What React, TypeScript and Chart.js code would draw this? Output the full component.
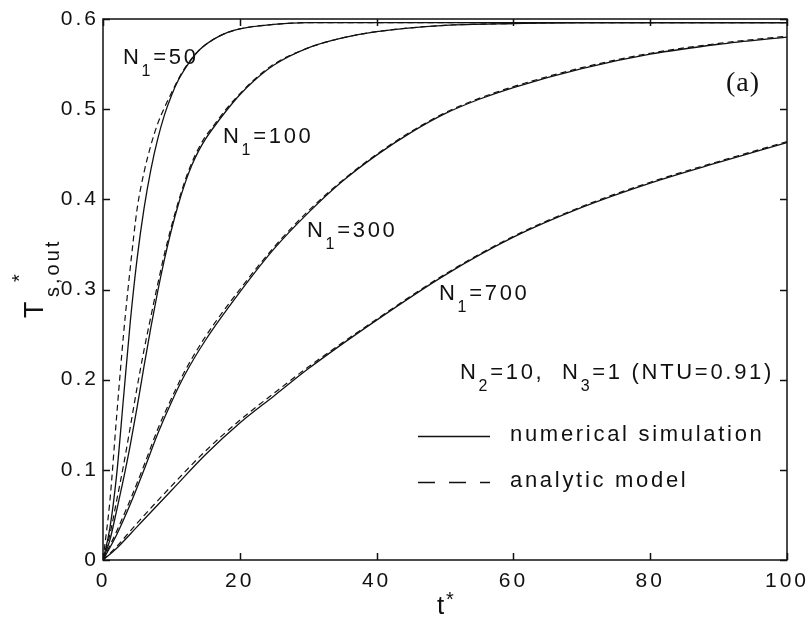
import React, { useEffect, useRef } from "react";
import { Chart, registerables } from "chart.js";

Chart.register(...registerables);

// ---------- data ----------
const tN50 = [0, 1, 2, 3, 4, 5, 6, 7, 8, 9, 10, 11, 12, 14, 17, 20, 25, 30, 40, 50, 60, 70, 80, 90, 100];
const simN50 = [0, 0.035, 0.095, 0.18, 0.265, 0.335, 0.39, 0.433, 0.467, 0.494, 0.515, 0.532, 0.545, 0.565, 0.581, 0.589, 0.594, 0.596, 0.596, 0.596, 0.596, 0.596, 0.596, 0.596, 0.596];
const anaN50 = [0, 0.065, 0.16, 0.25, 0.325, 0.39, 0.43, 0.46, 0.484, 0.502, 0.518, 0.533, 0.546, 0.565, 0.581, 0.589, 0.594, 0.596, 0.596, 0.596, 0.596, 0.596, 0.596, 0.596, 0.596];

const tN100 = [0, 1, 2, 3, 4, 5, 6, 7, 8, 9, 10, 11, 12, 13, 14, 15, 16, 18, 20, 22, 25, 30, 35, 40, 50, 60, 70, 80, 90, 100];
const simN100 = [0, 0.022, 0.055, 0.09, 0.128, 0.17, 0.215, 0.258, 0.298, 0.334, 0.366, 0.394, 0.418, 0.438, 0.454, 0.467, 0.478, 0.498, 0.516, 0.531, 0.549, 0.568, 0.579, 0.586, 0.593, 0.595, 0.596, 0.596, 0.596, 0.596];
const anaN100 = [0, 0.028, 0.066, 0.105, 0.148, 0.192, 0.233, 0.27, 0.306, 0.34, 0.37, 0.397, 0.421, 0.441, 0.457, 0.47, 0.48, 0.5, 0.517, 0.532, 0.55, 0.568, 0.579, 0.586, 0.593, 0.595, 0.596, 0.596, 0.596, 0.596];

const tN300 = [0, 2, 4, 6, 8, 10, 12, 15, 20, 25, 30, 35, 40, 45, 50, 55, 60, 70, 80, 90, 100];
const simN300 = [0, 0.028, 0.062, 0.1, 0.14, 0.175, 0.206, 0.244, 0.297, 0.345, 0.385, 0.42, 0.449, 0.474, 0.495, 0.511, 0.524, 0.545, 0.561, 0.572, 0.58];
const anaN300 = [0, 0.032, 0.067, 0.105, 0.145, 0.179, 0.21, 0.248, 0.3, 0.347, 0.387, 0.421, 0.45, 0.475, 0.496, 0.512, 0.525, 0.546, 0.562, 0.573, 0.581];

const tN700 = [0, 2, 5, 10, 15, 20, 25, 30, 40, 50, 60, 70, 80, 90, 100];
const simN700 = [0, 0.013, 0.037, 0.077, 0.117, 0.152, 0.182, 0.212, 0.266, 0.316, 0.358, 0.391, 0.418, 0.441, 0.463];
const anaN700 = [0, 0.015, 0.041, 0.082, 0.121, 0.155, 0.185, 0.214, 0.267, 0.317, 0.359, 0.392, 0.419, 0.442, 0.464];

const xMin = 0, xMax = 100, xStep = 20;
const yMin = 0, yMax = 0.6, yStep = 0.1;

const curveLabels = [
  { n: "1", v: "50", x: 123, y: 64 },
  { n: "1", v: "100", x: 223, y: 143 },
  { n: "1", v: "300", x: 307, y: 237 },
  { n: "1", v: "700", x: 439, y: 300 },
];
const legendSolid = "numerical simulation";
const legendDashed = "analytic model";

// ---------- helpers ----------
const SANS = '"Liberation Sans", Arial, Helvetica, sans-serif';
const SERIF = '"Liberation Serif", "Times New Roman", serif';
const INK = "#111";

type Part = { t: string; sub?: boolean };
function rich(ctx: CanvasRenderingContext2D, x: number, y: number, parts: Part[], size: number, spacing: number) {
  let cx = x;
  ctx.save();
  ctx.fillStyle = INK;
  ctx.textAlign = "left";
  ctx.textBaseline = "alphabetic";
  (ctx as any).letterSpacing = spacing + "px";
  for (const p of parts) {
    const s = p.sub ? Math.round(size * 0.72) : size;
    ctx.font = `${s}px ${SANS}`;
    const dy = p.sub ? Math.round(size * 0.55) : 0;
    ctx.fillText(p.t, cx, y + dy);
    cx += ctx.measureText(p.t).width;
  }
  ctx.restore();
}

const mk = (ts: number[], vs: number[]) => ts.map((t, i) => ({ x: t, y: vs[i] }));

const decorPlugin = {
  id: "decor",
  beforeDraw(chart: any) {
    (chart.ctx as any).letterSpacing = "3px";
  },
  afterDraw(chart: any) {
    const ctx: CanvasRenderingContext2D = chart.ctx;
    const { left, right, top, bottom } = chart.chartArea;
    const xs = chart.scales.x;
    const ys = chart.scales.y;
    ctx.save();
    (ctx as any).letterSpacing = "0px";
    ctx.strokeStyle = INK;
    ctx.lineWidth = 1.5;
    ctx.strokeRect(left, top, right - left, bottom - top);
    const tl = 7;
    ctx.beginPath();
    xs.ticks.forEach((tk: any) => {
      const px = Math.round(xs.getPixelForValue(tk.value)) + 0.5;
      ctx.moveTo(px, bottom); ctx.lineTo(px, bottom - tl);
      ctx.moveTo(px, top); ctx.lineTo(px, top + tl);
    });
    ys.ticks.forEach((tk: any) => {
      const py = Math.round(ys.getPixelForValue(tk.value)) + 0.5;
      ctx.moveTo(left, py); ctx.lineTo(left + tl, py);
      ctx.moveTo(right, py); ctx.lineTo(right - tl, py);
    });
    ctx.stroke();

    // curve labels
    for (const l of curveLabels) {
      rich(ctx, l.x, l.y, [{ t: "N" }, { t: l.n, sub: true }, { t: "=" + l.v }], 22, 2.7);
    }
    rich(ctx, 460, 379, [{ t: "N" }, { t: "2", sub: true }, { t: "=10,  N" }, { t: "3", sub: true }, { t: "=1 (NTU=0.91)" }], 22, 2.7);

    // legend
    ctx.lineWidth = 1.3;
    ctx.beginPath();
    ctx.moveTo(418, 436.5); ctx.lineTo(490, 436.5);
    ctx.stroke();
    ctx.setLineDash([17, 14]);
    ctx.beginPath();
    ctx.moveTo(418, 482.5); ctx.lineTo(490, 482.5);
    ctx.stroke();
    ctx.setLineDash([]);
    rich(ctx, 510, 441, [{ t: legendSolid }], 22, 2.7);
    rich(ctx, 510, 487, [{ t: legendDashed }], 22, 2.7);

    // (a)
    ctx.fillStyle = INK;
    ctx.font = `28px ${SERIF}`;
    (ctx as any).letterSpacing = "1px";
    ctx.textAlign = "left";
    ctx.textBaseline = "alphabetic";
    ctx.fillText("(a)", 726, 91);

    // x title t*
    (ctx as any).letterSpacing = "0px";
    ctx.font = `26px ${SANS}`;
    ctx.fillText("t", 437, 614);
    ctx.font = `20px ${SANS}`;
    ctx.fillText("*", 446, 606);

    // y title T*_{s,out}
    ctx.translate(43, 318);
    ctx.rotate(-Math.PI / 2);
    ctx.font = `27px ${SANS}`;
    ctx.fillText("T", 0, 0);
    ctx.font = `20px ${SANS}`;
    (ctx as any).letterSpacing = "3px";
    ctx.fillText("s,out", 21, 16);
    (ctx as any).letterSpacing = "0px";
    ctx.fillText("*", 36, -17);
    ctx.restore();
  },
};

export default function App() {
  const ref = useRef<HTMLCanvasElement | null>(null);
  useEffect(() => {
    if (!ref.current) return;
    const solid = { borderColor: INK, borderWidth: 1.3, pointRadius: 0, fill: false, cubicInterpolationMode: "monotone" as const };
    const dashed = { borderColor: INK, borderWidth: 1.2, pointRadius: 0, fill: false, borderDash: [6, 4], cubicInterpolationMode: "monotone" as const };
    const tickFont = { family: SANS, size: 21 };
    const chart = new Chart(ref.current, {
      type: "line",
      data: {
        datasets: [
          { label: "N1=50 sim", data: mk(tN50, simN50), ...solid },
          { label: "N1=50 model", data: mk(tN50, anaN50), ...dashed },
          { label: "N1=100 sim", data: mk(tN100, simN100), ...solid },
          { label: "N1=100 model", data: mk(tN100, anaN100), ...dashed },
          { label: "N1=300 sim", data: mk(tN300, simN300), ...solid },
          { label: "N1=300 model", data: mk(tN300, anaN300), ...dashed },
          { label: "N1=700 sim", data: mk(tN700, simN700), ...solid },
          { label: "N1=700 model", data: mk(tN700, anaN700), ...dashed },
        ],
      },
      options: {
        animation: false,
        responsive: true,
        maintainAspectRatio: false,
        layout: { padding: { left: 0, top: 19, right: 22, bottom: 0 } },
        plugins: { legend: { display: false }, tooltip: { enabled: false } },
        scales: {
          x: {
            type: "linear",
            min: xMin,
            max: xMax,
            ticks: { stepSize: xStep, color: INK, font: tickFont, padding: 9, maxRotation: 0 },
            grid: { display: false, drawTicks: false },
            border: { display: false },
            afterFit: (s: any) => { s.height = 67; s.paddingLeft = 0; s.paddingRight = 0; },
          },
          y: {
            type: "linear",
            min: yMin,
            max: yMax,
            ticks: { stepSize: yStep, color: INK, font: tickFont, padding: 4 },
            grid: { display: false, drawTicks: false },
            border: { display: false },
            afterFit: (s: any) => { s.width = 103; s.paddingTop = 0; s.paddingBottom = 0; },
          },
        },
      },
      plugins: [decorPlugin],
    });
    return () => chart.destroy();
  }, []);
  return (
    <div style={{ position: "absolute", left: 0, top: 0, width: 809, height: 627, background: "#fff" }}>
      <canvas ref={ref} />
    </div>
  );
}
